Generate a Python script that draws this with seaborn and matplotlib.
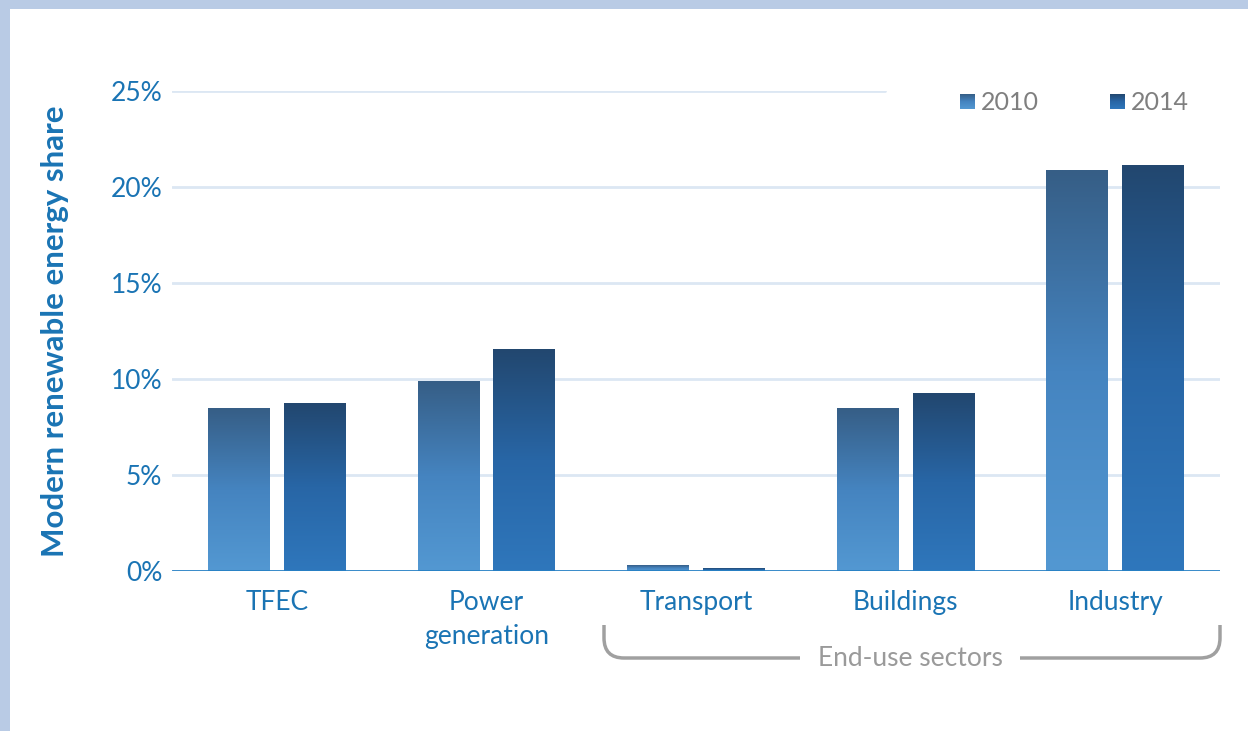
import numpy as np
import pandas as pd
import matplotlib
matplotlib.use("Agg")
import matplotlib.pyplot as plt
import seaborn as sns
from matplotlib.colors import LinearSegmentedColormap
from matplotlib.patches import Rectangle, PathPatch
from matplotlib.path import Path


SECTORS = ["TFEC", "Power\ngeneration", "Transport", "Buildings", "Industry"]
YEARS = ["2010", "2014"]
SHARE_2010 = [8.45, 9.85, 0.27, 8.45, 20.85]
SHARE_2014 = [8.7, 11.55, 0.14, 9.25, 21.1]
Y_TICKS = [0, 5, 10, 15, 20, 25]

W, H = 1248, 731
BLUE_TEXT = "#1a74b4"
GREY_TEXT = "#7f7f7f"

# light -> mid -> dark (bottom to top of each bar)
CMAPS = {
    "2010": LinearSegmentedColormap.from_list("c2010", [(0, "#5398d2"), (0.5, "#4584c0"), (1, "#365e86")]),
    "2014": LinearSegmentedColormap.from_list("c2014", [(0, "#2f77bc"), (0.5, "#2866a6"), (1, "#22476f")]),
}

df = pd.DataFrame({
    "sector": SECTORS * 2,
    "year": [YEARS[0]] * len(SECTORS) + [YEARS[1]] * len(SECTORS),
    "share": SHARE_2010 + SHARE_2014,
})

sns.set_style("white")
plt.rcParams["font.family"] = ["Lato", "DejaVu Sans"]


def fx(px):
    return px / W


def fy(py):
    return 1 - py / H


fig = plt.figure(figsize=(W / 100, H / 100), dpi=100)
fig.patch.set_facecolor("#b9cbe5")
fig.patches.append(Rectangle((fx(10), 0), 1, fy(9), transform=fig.transFigure,
                             facecolor="white", edgecolor="none", zorder=-5))

ax = fig.add_axes([fx(172), fy(571), fx(1220 - 172), (571 - 91) / H])
ax.set_facecolor("none")

sns.barplot(data=df, x="sector", y="share", hue="year", hue_order=YEARS,
            width=0.724, gap=0.185, legend=False, ax=ax, zorder=2)

grad = np.linspace(0, 1, 256).reshape(-1, 1)
for year, container in zip(YEARS, ax.containers):
    for bar in container:
        x0, w, h = bar.get_x(), bar.get_width(), bar.get_height()
        ax.imshow(grad, extent=[x0, x0 + w, 0, h], origin="lower", aspect="auto",
                  cmap=CMAPS[year], zorder=2, interpolation="bilinear")
        bar.set_facecolor("none")
        bar.set_edgecolor("none")

for v in Y_TICKS[1:-1]:
    ax.axhline(v, color="#dce7f3", lw=2, zorder=1)
ax.axhline(Y_TICKS[-1], xmax=(885 - 172) / (1220 - 172), color="#dce7f3", lw=2, zorder=1)
ax.axhline(0, color="#2680c4", lw=2.0, zorder=3)

ax.set_xlim(-0.5, 4.5)
ax.set_ylim(0, 25)
ax.set_yticks(Y_TICKS)
ax.set_yticklabels([f"{v}%" for v in Y_TICKS])
ax.tick_params(axis="y", length=0, pad=7, labelsize=19, labelcolor=BLUE_TEXT)
ax.tick_params(axis="x", length=0, pad=14, labelsize=19, labelcolor=BLUE_TEXT)
for lbl in ax.get_xticklabels():
    lbl.set_linespacing(1.45)
ax.set_xlabel("")
ax.set_ylabel("")
sns.despine(ax=ax, left=True, bottom=True)

fig.text(fx(55), fy(331), "Modern renewable energy share", rotation=90,
         ha="center", va="center", fontsize=22.5, fontweight="bold", color=BLUE_TEXT)

# legend with gradient swatches
for year, sx in zip(YEARS, [960, 1110]):
    lax = fig.add_axes([fx(sx), fy(109), fx(15), 15 / H])
    lax.imshow(grad, origin="lower", aspect="auto", cmap=CMAPS[year])
    lax.axis("off")
    fig.text(fx(sx + 21), fy(103), year, ha="left", va="center",
             fontsize=18, color=GREY_TEXT)

# end-use sectors bracket
r = 20
left_path = Path(
    [(fx(604), fy(625)), (fx(604), fy(658 - r)), (fx(604), fy(658)), (fx(604 + r), fy(658)), (fx(800), fy(658))],
    [Path.MOVETO, Path.LINETO, Path.CURVE3, Path.CURVE3, Path.LINETO],
)
right_path = Path(
    [(fx(1020), fy(658)), (fx(1220 - r), fy(658)), (fx(1220), fy(658)), (fx(1220), fy(658 - r)), (fx(1220), fy(625))],
    [Path.MOVETO, Path.LINETO, Path.CURVE3, Path.CURVE3, Path.LINETO],
)
for p in (left_path, right_path):
    fig.patches.append(PathPatch(p, transform=fig.transFigure, facecolor="none",
                                 edgecolor="#a0a0a0", lw=2.5, capstyle="butt"))
fig.text(fx(910), fy(659), "End-use sectors", ha="center", va="center",
         fontsize=19, color="#9a9a9a")

fig.savefig("out.png", dpi=100, facecolor=fig.get_facecolor())
